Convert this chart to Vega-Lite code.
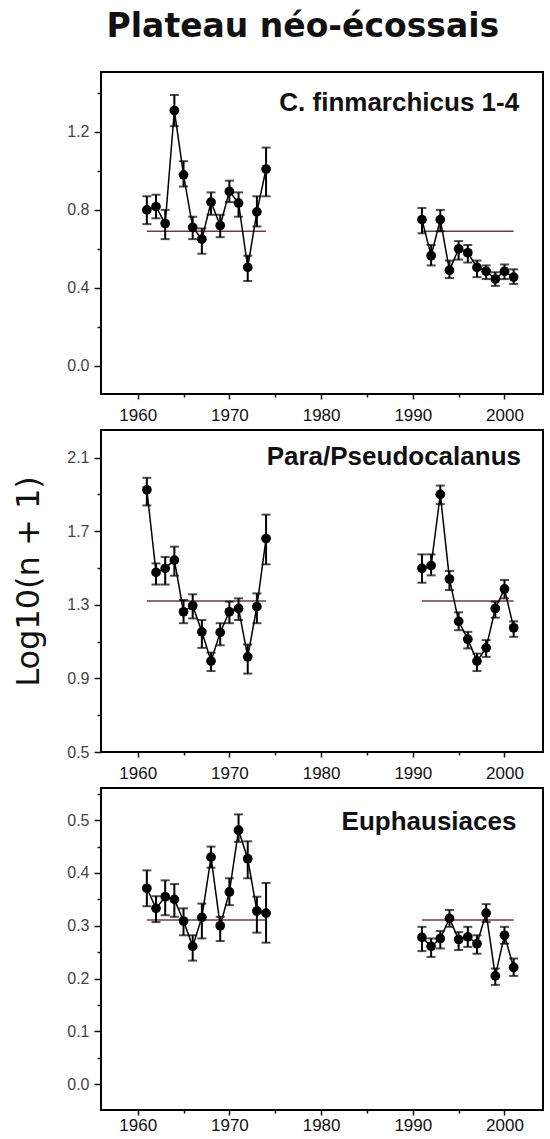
{
  "$schema": "https://vega.github.io/schema/vega-lite/v6.json",
  "background": "white",
  "padding": {"left": 11, "top": 11, "right": 7, "bottom": 2},
  "title": {
    "text": "Plateau néo-écossais",
    "font": "DejaVu Sans",
    "fontSize": 33,
    "fontWeight": "bold",
    "color": "#111111",
    "anchor": "middle",
    "dx": 25,
    "offset": 27
  },
  "datasets": {
    "obs": [
      {"panel": "C", "period": "a", "year": 1961, "value": 0.80, "hi": 0.87, "lo": 0.727},
      {"panel": "C", "period": "a", "year": 1962, "value": 0.817, "hi": 0.878, "lo": 0.757},
      {"panel": "C", "period": "a", "year": 1963, "value": 0.73, "hi": 0.80, "lo": 0.65},
      {"panel": "C", "period": "a", "year": 1964, "value": 1.31, "hi": 1.39, "lo": 1.23},
      {"panel": "C", "period": "a", "year": 1965, "value": 0.98, "hi": 1.05, "lo": 0.92},
      {"panel": "C", "period": "a", "year": 1966, "value": 0.71, "hi": 0.765, "lo": 0.65},
      {"panel": "C", "period": "a", "year": 1967, "value": 0.65, "hi": 0.705, "lo": 0.575},
      {"panel": "C", "period": "a", "year": 1968, "value": 0.84, "hi": 0.89, "lo": 0.775},
      {"panel": "C", "period": "a", "year": 1969, "value": 0.72, "hi": 0.775, "lo": 0.66},
      {"panel": "C", "period": "a", "year": 1970, "value": 0.895, "hi": 0.95, "lo": 0.84},
      {"panel": "C", "period": "a", "year": 1971, "value": 0.835, "hi": 0.89, "lo": 0.765},
      {"panel": "C", "period": "a", "year": 1972, "value": 0.505, "hi": 0.565, "lo": 0.435},
      {"panel": "C", "period": "a", "year": 1973, "value": 0.79, "hi": 0.87, "lo": 0.715},
      {"panel": "C", "period": "a", "year": 1974, "value": 1.01, "hi": 1.12, "lo": 0.87},
      {"panel": "C", "period": "b", "year": 1991, "value": 0.75, "hi": 0.81, "lo": 0.68},
      {"panel": "C", "period": "b", "year": 1992, "value": 0.565, "hi": 0.62, "lo": 0.515},
      {"panel": "C", "period": "b", "year": 1993, "value": 0.75, "hi": 0.80, "lo": 0.69},
      {"panel": "C", "period": "b", "year": 1994, "value": 0.49, "hi": 0.54, "lo": 0.45},
      {"panel": "C", "period": "b", "year": 1995, "value": 0.60, "hi": 0.64, "lo": 0.545},
      {"panel": "C", "period": "b", "year": 1996, "value": 0.58, "hi": 0.62, "lo": 0.53},
      {"panel": "C", "period": "b", "year": 1997, "value": 0.505, "hi": 0.54, "lo": 0.455},
      {"panel": "C", "period": "b", "year": 1998, "value": 0.485, "hi": 0.515, "lo": 0.445},
      {"panel": "C", "period": "b", "year": 1999, "value": 0.445, "hi": 0.48, "lo": 0.41},
      {"panel": "C", "period": "b", "year": 2000, "value": 0.485, "hi": 0.52, "lo": 0.445},
      {"panel": "C", "period": "b", "year": 2001, "value": 0.455, "hi": 0.495, "lo": 0.42},

      {"panel": "P", "period": "a", "year": 1961, "value": 1.925, "hi": 1.99, "lo": 1.84},
      {"panel": "P", "period": "a", "year": 1962, "value": 1.476, "hi": 1.525, "lo": 1.41},
      {"panel": "P", "period": "a", "year": 1963, "value": 1.498, "hi": 1.56, "lo": 1.41},
      {"panel": "P", "period": "a", "year": 1964, "value": 1.543, "hi": 1.616, "lo": 1.458},
      {"panel": "P", "period": "a", "year": 1965, "value": 1.262, "hi": 1.326, "lo": 1.20},
      {"panel": "P", "period": "a", "year": 1966, "value": 1.295, "hi": 1.357, "lo": 1.226},
      {"panel": "P", "period": "a", "year": 1967, "value": 1.153, "hi": 1.217, "lo": 1.066},
      {"panel": "P", "period": "a", "year": 1968, "value": 0.994, "hi": 1.04, "lo": 0.94},
      {"panel": "P", "period": "a", "year": 1969, "value": 1.15, "hi": 1.20, "lo": 1.08},
      {"panel": "P", "period": "a", "year": 1970, "value": 1.262, "hi": 1.317, "lo": 1.20},
      {"panel": "P", "period": "a", "year": 1971, "value": 1.28, "hi": 1.335, "lo": 1.217},
      {"panel": "P", "period": "a", "year": 1972, "value": 1.017, "hi": 1.084, "lo": 0.926},
      {"panel": "P", "period": "a", "year": 1973, "value": 1.29, "hi": 1.362, "lo": 1.20},
      {"panel": "P", "period": "a", "year": 1974, "value": 1.66, "hi": 1.79, "lo": 1.52},
      {"panel": "P", "period": "b", "year": 1991, "value": 1.498, "hi": 1.574, "lo": 1.42},
      {"panel": "P", "period": "b", "year": 1992, "value": 1.513, "hi": 1.574, "lo": 1.46},
      {"panel": "P", "period": "b", "year": 1993, "value": 1.90, "hi": 1.948, "lo": 1.847},
      {"panel": "P", "period": "b", "year": 1994, "value": 1.44, "hi": 1.484, "lo": 1.38},
      {"panel": "P", "period": "b", "year": 1995, "value": 1.21, "hi": 1.259, "lo": 1.162},
      {"panel": "P", "period": "b", "year": 1996, "value": 1.113, "hi": 1.153, "lo": 1.063},
      {"panel": "P", "period": "b", "year": 1997, "value": 0.994, "hi": 1.035, "lo": 0.94},
      {"panel": "P", "period": "b", "year": 1998, "value": 1.066, "hi": 1.108, "lo": 1.017},
      {"panel": "P", "period": "b", "year": 1999, "value": 1.28, "hi": 1.317, "lo": 1.23},
      {"panel": "P", "period": "b", "year": 2000, "value": 1.386, "hi": 1.435, "lo": 1.335},
      {"panel": "P", "period": "b", "year": 2001, "value": 1.175, "hi": 1.21, "lo": 1.126},

      {"panel": "E", "period": "a", "year": 1961, "value": 0.371, "hi": 0.405, "lo": 0.337},
      {"panel": "E", "period": "a", "year": 1962, "value": 0.333, "hi": 0.356, "lo": 0.307},
      {"panel": "E", "period": "a", "year": 1963, "value": 0.355, "hi": 0.386, "lo": 0.32},
      {"panel": "E", "period": "a", "year": 1964, "value": 0.35, "hi": 0.379, "lo": 0.317},
      {"panel": "E", "period": "a", "year": 1965, "value": 0.309, "hi": 0.333, "lo": 0.282},
      {"panel": "E", "period": "a", "year": 1966, "value": 0.261, "hi": 0.282, "lo": 0.234},
      {"panel": "E", "period": "a", "year": 1967, "value": 0.316, "hi": 0.342, "lo": 0.276},
      {"panel": "E", "period": "a", "year": 1968, "value": 0.43, "hi": 0.45, "lo": 0.41},
      {"panel": "E", "period": "a", "year": 1969, "value": 0.30, "hi": 0.317, "lo": 0.271},
      {"panel": "E", "period": "a", "year": 1970, "value": 0.364, "hi": 0.39, "lo": 0.339},
      {"panel": "E", "period": "a", "year": 1971, "value": 0.481, "hi": 0.511, "lo": 0.459},
      {"panel": "E", "period": "a", "year": 1972, "value": 0.427, "hi": 0.46, "lo": 0.39},
      {"panel": "E", "period": "a", "year": 1973, "value": 0.328, "hi": 0.355, "lo": 0.287},
      {"panel": "E", "period": "a", "year": 1974, "value": 0.324, "hi": 0.381, "lo": 0.268},
      {"panel": "E", "period": "b", "year": 1991, "value": 0.278, "hi": 0.298, "lo": 0.252},
      {"panel": "E", "period": "b", "year": 1992, "value": 0.261, "hi": 0.276, "lo": 0.241},
      {"panel": "E", "period": "b", "year": 1993, "value": 0.276, "hi": 0.29, "lo": 0.257},
      {"panel": "E", "period": "b", "year": 1994, "value": 0.314, "hi": 0.33, "lo": 0.298},
      {"panel": "E", "period": "b", "year": 1995, "value": 0.274, "hi": 0.288, "lo": 0.254},
      {"panel": "E", "period": "b", "year": 1996, "value": 0.279, "hi": 0.298, "lo": 0.26},
      {"panel": "E", "period": "b", "year": 1997, "value": 0.266, "hi": 0.282, "lo": 0.247},
      {"panel": "E", "period": "b", "year": 1998, "value": 0.324, "hi": 0.341, "lo": 0.307},
      {"panel": "E", "period": "b", "year": 1999, "value": 0.205, "hi": 0.219, "lo": 0.188},
      {"panel": "E", "period": "b", "year": 2000, "value": 0.282, "hi": 0.298, "lo": 0.266},
      {"panel": "E", "period": "b", "year": 2001, "value": 0.221, "hi": 0.238, "lo": 0.205}
    ],
    "means": [
      {"panel": "C", "start": 1961, "end": 1974, "mean": 0.69},
      {"panel": "C", "start": 1991, "end": 2001, "mean": 0.69},
      {"panel": "P", "start": 1961, "end": 1974, "mean": 1.32},
      {"panel": "P", "start": 1991, "end": 2001, "mean": 1.32},
      {"panel": "E", "start": 1961, "end": 1974, "mean": 0.311},
      {"panel": "E", "start": 1991, "end": 2001, "mean": 0.311}
    ],
    "labels": [
      {"panel": "C", "label": "C. finmarchicus 1-4", "year": 2001.6, "value": 1.31},
      {"panel": "P", "label": "Para/Pseudocalanus", "year": 2001.8, "value": 2.06},
      {"panel": "E", "label": "Euphausiaces", "year": 2001.3, "value": 0.482}
    ]
  },
  "spacing": 5,
  "vconcat": [
    {
      "width": 442,
      "height": 322,
      "encoding": {
        "x": {"type": "quantitative", "scale": {"domain": [1956, 2004.2], "nice": false, "zero": false},
              "axis": {"values": [1960, 1965, 1970, 1975, 1980, 1985, 1990, 1995, 2000], "labelExpr": "datum.value % 10 == 0 ? datum.value : ''",
                       "tickSize": {"condition": {"test": "datum.value % 10 == 0", "value": 5}, "value": 3}}},
        "y": {"type": "quantitative", "scale": {"domain": [-0.145, 1.508], "nice": false, "zero": false},
              "axis": {"values": [0, 0.2, 0.4, 0.6, 0.8, 1.0, 1.2, 1.4], "labelExpr": "round(datum.value * 10) % 4 == 0 ? format(datum.value, '.1f') : ''",
                       "tickSize": {"condition": {"test": "round(datum.value * 10) % 4 == 0", "value": 7}, "value": 4}}}
      },
      "layer": [
        {"data": {"name": "means"}, "transform": [{"filter": "datum.panel == 'C'"}], "mark": {"type": "rule", "color": "#6e3a48", "strokeWidth": 1.5},
         "encoding": {"x": {"field": "start"}, "x2": {"field": "end"}, "y": {"field": "mean"}}},
        {"data": {"name": "obs"}, "transform": [{"filter": "datum.panel == 'C'"}], "mark": {"type": "rule", "color": "black", "strokeWidth": 2},
         "encoding": {"x": {"field": "year"}, "y": {"field": "lo"}, "y2": {"field": "hi"}}},
        {"data": {"name": "obs"}, "transform": [{"filter": "datum.panel == 'C'"}], "mark": {"type": "tick", "color": "black", "orient": "horizontal", "size": 9, "thickness": 2},
         "encoding": {"x": {"field": "year"}, "y": {"field": "hi"}}},
        {"data": {"name": "obs"}, "transform": [{"filter": "datum.panel == 'C'"}], "mark": {"type": "tick", "color": "black", "orient": "horizontal", "size": 9, "thickness": 2},
         "encoding": {"x": {"field": "year"}, "y": {"field": "lo"}}},
        {"data": {"name": "obs"}, "transform": [{"filter": "datum.panel == 'C'"}], "mark": {"type": "line", "color": "black", "strokeWidth": 1.5},
         "encoding": {"x": {"field": "year"}, "y": {"field": "value"}, "detail": {"field": "period"}}},
        {"data": {"name": "obs"}, "transform": [{"filter": "datum.panel == 'C'"}], "mark": {"type": "point", "filled": true, "color": "black", "opacity": 1, "size": 95},
         "encoding": {"x": {"field": "year"}, "y": {"field": "value"}}},
        {"data": {"name": "labels"}, "transform": [{"filter": "datum.panel == 'C'"}], "mark": {"type": "text", "align": "right", "baseline": "alphabetic", "font": "Liberation Sans", "fontSize": 26, "fontWeight": "bold", "color": "#111111"},
         "encoding": {"x": {"field": "year"}, "y": {"field": "value"}, "text": {"field": "label"}}}
      ]
    },
    {
      "width": 442,
      "height": 322,
      "encoding": {
        "x": {"type": "quantitative", "scale": {"domain": [1956, 2004.2], "nice": false, "zero": false},
              "axis": {"values": [1960, 1965, 1970, 1975, 1980, 1985, 1990, 1995, 2000], "labelExpr": "datum.value % 10 == 0 ? datum.value : ''",
                       "tickSize": {"condition": {"test": "datum.value % 10 == 0", "value": 5}, "value": 3}}},
        "y": {"type": "quantitative", "scale": {"domain": [0.5, 2.25], "nice": false, "zero": false},
              "axis": {"title": "Log10(n + 1)", "titleY": 151, "values": [0.5, 0.7, 0.9, 1.1, 1.3, 1.5, 1.7, 1.9, 2.1], "labelExpr": "(round(datum.value * 10) - 5) % 4 == 0 ? format(datum.value, '.1f') : ''",
                       "tickSize": {"condition": {"test": "(round(datum.value * 10) - 5) % 4 == 0", "value": 7}, "value": 4}}}
      },
      "layer": [
        {"data": {"name": "means"}, "transform": [{"filter": "datum.panel == 'P'"}], "mark": {"type": "rule", "color": "#6e3a48", "strokeWidth": 1.5},
         "encoding": {"x": {"field": "start"}, "x2": {"field": "end"}, "y": {"field": "mean"}}},
        {"data": {"name": "obs"}, "transform": [{"filter": "datum.panel == 'P'"}], "mark": {"type": "rule", "color": "black", "strokeWidth": 2},
         "encoding": {"x": {"field": "year"}, "y": {"field": "lo"}, "y2": {"field": "hi"}}},
        {"data": {"name": "obs"}, "transform": [{"filter": "datum.panel == 'P'"}], "mark": {"type": "tick", "color": "black", "orient": "horizontal", "size": 9, "thickness": 2},
         "encoding": {"x": {"field": "year"}, "y": {"field": "hi"}}},
        {"data": {"name": "obs"}, "transform": [{"filter": "datum.panel == 'P'"}], "mark": {"type": "tick", "color": "black", "orient": "horizontal", "size": 9, "thickness": 2},
         "encoding": {"x": {"field": "year"}, "y": {"field": "lo"}}},
        {"data": {"name": "obs"}, "transform": [{"filter": "datum.panel == 'P'"}], "mark": {"type": "line", "color": "black", "strokeWidth": 1.5},
         "encoding": {"x": {"field": "year"}, "y": {"field": "value"}, "detail": {"field": "period"}}},
        {"data": {"name": "obs"}, "transform": [{"filter": "datum.panel == 'P'"}], "mark": {"type": "point", "filled": true, "color": "black", "opacity": 1, "size": 95},
         "encoding": {"x": {"field": "year"}, "y": {"field": "value"}}},
        {"data": {"name": "labels"}, "transform": [{"filter": "datum.panel == 'P'"}], "mark": {"type": "text", "align": "right", "baseline": "alphabetic", "font": "Liberation Sans", "fontSize": 26, "fontWeight": "bold", "color": "#111111"},
         "encoding": {"x": {"field": "year"}, "y": {"field": "value"}, "text": {"field": "label"}}}
      ]
    },
    {
      "width": 442,
      "height": 322,
      "encoding": {
        "x": {"type": "quantitative", "scale": {"domain": [1956, 2004.2], "nice": false, "zero": false},
              "axis": {"labelPadding": 2, "values": [1960, 1965, 1970, 1975, 1980, 1985, 1990, 1995, 2000], "labelExpr": "datum.value % 10 == 0 ? datum.value : ''",
                       "tickSize": {"condition": {"test": "datum.value % 10 == 0", "value": 5}, "value": 3}}},
        "y": {"type": "quantitative", "scale": {"domain": [-0.049, 0.561], "nice": false, "zero": false},
              "axis": {"values": [0, 0.05, 0.1, 0.15, 0.2, 0.25, 0.3, 0.35, 0.4, 0.45, 0.5, 0.55], "labelExpr": "round(datum.value * 100) % 10 == 0 ? format(datum.value, '.1f') : ''",
                       "tickSize": {"condition": {"test": "round(datum.value * 100) % 10 == 0", "value": 7}, "value": 4}}}
      },
      "layer": [
        {"data": {"name": "means"}, "transform": [{"filter": "datum.panel == 'E'"}], "mark": {"type": "rule", "color": "#6e3a48", "strokeWidth": 1.5},
         "encoding": {"x": {"field": "start"}, "x2": {"field": "end"}, "y": {"field": "mean"}}},
        {"data": {"name": "obs"}, "transform": [{"filter": "datum.panel == 'E'"}], "mark": {"type": "rule", "color": "black", "strokeWidth": 2},
         "encoding": {"x": {"field": "year"}, "y": {"field": "lo"}, "y2": {"field": "hi"}}},
        {"data": {"name": "obs"}, "transform": [{"filter": "datum.panel == 'E'"}], "mark": {"type": "tick", "color": "black", "orient": "horizontal", "size": 9, "thickness": 2},
         "encoding": {"x": {"field": "year"}, "y": {"field": "hi"}}},
        {"data": {"name": "obs"}, "transform": [{"filter": "datum.panel == 'E'"}], "mark": {"type": "tick", "color": "black", "orient": "horizontal", "size": 9, "thickness": 2},
         "encoding": {"x": {"field": "year"}, "y": {"field": "lo"}}},
        {"data": {"name": "obs"}, "transform": [{"filter": "datum.panel == 'E'"}], "mark": {"type": "line", "color": "black", "strokeWidth": 1.5},
         "encoding": {"x": {"field": "year"}, "y": {"field": "value"}, "detail": {"field": "period"}}},
        {"data": {"name": "obs"}, "transform": [{"filter": "datum.panel == 'E'"}], "mark": {"type": "point", "filled": true, "color": "black", "opacity": 1, "size": 95},
         "encoding": {"x": {"field": "year"}, "y": {"field": "value"}}},
        {"data": {"name": "labels"}, "transform": [{"filter": "datum.panel == 'E'"}], "mark": {"type": "text", "align": "right", "baseline": "alphabetic", "font": "Liberation Sans", "fontSize": 26, "fontWeight": "bold", "color": "#111111"},
         "encoding": {"x": {"field": "year"}, "y": {"field": "value"}, "text": {"field": "label"}}}
      ]
    }
  ],
  "config": {
    "view": {"stroke": "black", "strokeWidth": 2},
    "axis": {
      "grid": false,
      "domain": false,
      "title": null,
      "tickColor": "#111111",
      "tickWidth": 1.5,
      "labelFont": "Liberation Sans",
      "labelFontSize": 16,
      "labelColor": "#222222",
      "titleFont": "DejaVu Sans",
      "titleFontSize": 32,
      "titleFontWeight": "normal",
      "titleColor": "#111111"
    },
    "axisX": {"labelPadding": 8, "labelFontSize": 17, "labelColor": "#111111", "labelFlush": false},
    "axisY": {"labelPadding": 5, "titlePadding": 21, "labelColor": "#444444"}
  }
}
